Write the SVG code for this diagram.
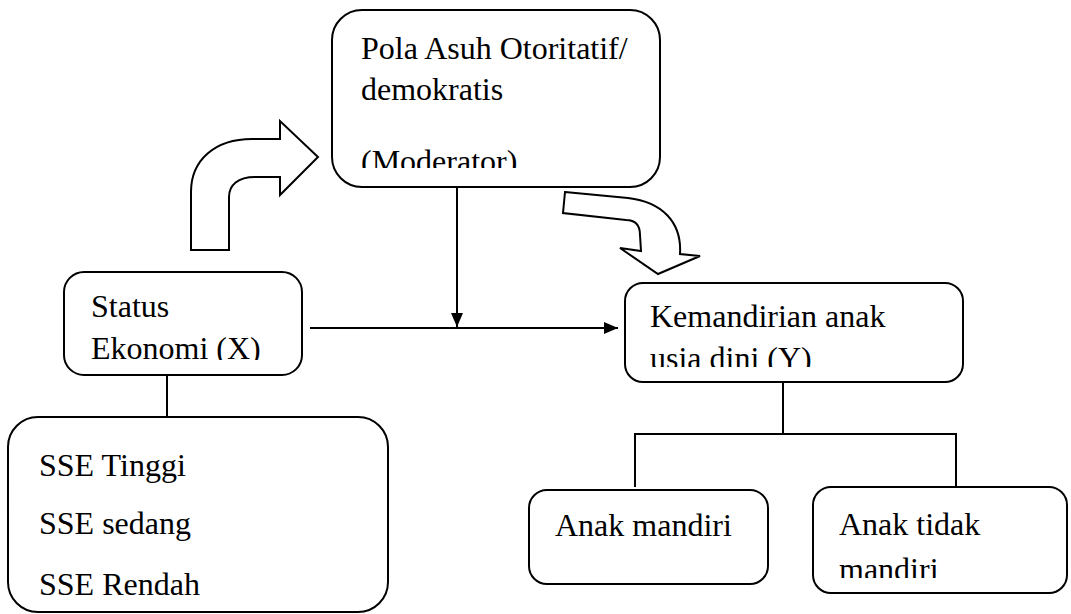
<svg xmlns="http://www.w3.org/2000/svg" width="1071" height="614" viewBox="0 0 1071 614">
<style>
.box{fill:#fff;stroke:#000;stroke-width:2}
.t{font-family:"Liberation Serif","Times New Roman",serif;font-size:32px;fill:#000}
.ln{fill:none;stroke:#000;stroke-width:2}
.big{fill:#fff;stroke:#000;stroke-width:2;stroke-linejoin:miter}
</style>
<defs>
<marker id="ah" viewBox="0 0 14 12" refX="14" refY="6" markerWidth="14" markerHeight="12" markerUnits="userSpaceOnUse" orient="auto">
<path d="M0,0 L14,6 L0,12 Z" fill="#000"/>
</marker>
<clipPath id="c1"><rect x="332" y="10" width="328" height="158"/></clipPath>
<clipPath id="c2"><rect x="64" y="272" width="238" height="88"/></clipPath>
<clipPath id="c3"><rect x="625" y="283" width="338" height="84"/></clipPath>
<clipPath id="c4"><rect x="813" y="487" width="254" height="91"/></clipPath>
</defs>
<g id="connectors">
<line class="ln" x1="167" y1="375" x2="167" y2="417"/>
<line class="ln" x1="310" y1="328" x2="618" y2="328" marker-end="url(#ah)"/>
<line class="ln" x1="457" y1="187" x2="457" y2="327" marker-end="url(#ah)"/>
<polyline class="ln" points="783,382 783,434"/>
<polyline class="ln" points="635,487 635,434 956,434 956,486"/>
<path id="arrow-up" class="big" d="M191,250 L191,192 C191,160 215,139 252,139 L280,139 L280,121 L318,157 L280,195 L280,177 L255,177 C238,177 229,185 229,197 L229,250 Z"/>
<path id="arrow-down" class="big" d="M565,192 L628,198 C662,202 682,222 680,254 L700,256 L658,274 L620,248 L641,251 L640,235 C640,225 635,220 626,220 L563,213 Z"/>
</g>
<g id="node-pola">
<rect class="box" x="332" y="10" width="328" height="177" rx="30"/>
<g clip-path="url(#c1)">
<text class="t" x="361" y="59">Pola Asuh Otoritatif/</text>
<text class="t" x="361" y="100">demokratis</text>
<text class="t" x="361" y="172">(Moderator)</text>
</g>
</g>
<g id="node-status">
<rect class="box" x="64" y="272" width="238" height="103" rx="20"/>
<g clip-path="url(#c2)">
<text class="t" x="91" y="317">Status</text>
<text class="t" x="91" y="359">Ekonomi (X)</text>
</g>
</g>
<g id="node-sse">
<rect class="box" x="8" y="417" width="380" height="195" rx="30"/>
<text class="t" x="39" y="476">SSE Tinggi</text>
<text class="t" x="39" y="534">SSE sedang</text>
<text class="t" x="39" y="595">SSE Rendah</text>
</g>
<g id="node-kemandirian">
<rect class="box" x="625" y="283" width="338" height="99" rx="18"/>
<g clip-path="url(#c3)">
<text class="t" x="650" y="327">Kemandirian anak</text>
<text class="t" x="650" y="369">usia dini (Y)</text>
</g>
</g>
<g id="node-mandiri">
<rect class="box" x="529" y="490" width="239" height="94" rx="18"/>
<text class="t" x="555" y="536">Anak mandiri</text>
</g>
<g id="node-tidak">
<rect class="box" x="813" y="487" width="254" height="106" rx="18"/>
<g clip-path="url(#c4)">
<text class="t" x="839" y="535">Anak tidak</text>
<text class="t" x="839" y="580">mandiri</text>
</g>
</g>
</svg>
